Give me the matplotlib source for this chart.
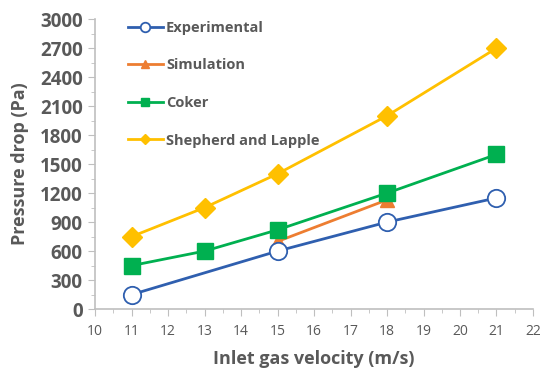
import matplotlib
matplotlib.use('Agg')
import matplotlib.pyplot as plt
from matplotlib.ticker import MultipleLocator

# Data
velocity = [11, 13, 15, 18, 21]
experimental_x = [11, 15, 18, 21]
experimental = [150, 600, 900, 1150]
simulation_x = [15, 18]
simulation = [700, 1130]
coker = [450, 600, 820, 1200, 1600]
shepherd_lapple = [750, 1050, 1400, 2000, 2700]

plt.rcParams['font.family'] = ['Open Sans', 'DejaVu Sans']

grey = '#595959'
axis_grey = '#BFBFBF'

fig = plt.figure(figsize=(5.5, 3.76), dpi=100)
ax = fig.add_axes([0.173, 0.178, 0.796, 0.771])

ax.plot(experimental_x, experimental, color='#2F5FAF', lw=2, marker='o', ms=12.5,
        mfc='white', mec='#2F5FAF', mew=1.3, label='Experimental', zorder=3)
ax.plot(simulation_x, simulation, color='#ED7D31', lw=2, marker='^', ms=10,
        mfc='#ED7D31', mec='#ED7D31', label='Simulation', zorder=2)
ax.plot(velocity, coker, color='#00B050', lw=2, marker='s', ms=11,
        mfc='#00B050', mec='#00B050', label='Coker', zorder=4)
ax.plot(velocity, shepherd_lapple, color='#FFC000', lw=2, marker='D', ms=10,
        mfc='#FFC000', mec='#FFC000', label='Shepherd and Lapple', zorder=5)

ax.set_xlim(10, 22)
ax.set_ylim(0, 3000)
ax.xaxis.set_major_locator(MultipleLocator(1))
ax.xaxis.set_minor_locator(MultipleLocator(0.5))
ax.yaxis.set_major_locator(MultipleLocator(300))
ax.yaxis.set_minor_locator(MultipleLocator(150))

for side in ['top', 'right']:
    ax.spines[side].set_visible(False)
for side in ['left', 'bottom']:
    ax.spines[side].set_color(axis_grey)
    ax.spines[side].set_linewidth(1.2)

ax.tick_params(axis='both', which='both', color=axis_grey, direction='out')
ax.tick_params(axis='both', which='major', length=5)
ax.tick_params(axis='both', which='minor', length=3)
ax.tick_params(axis='x', labelsize=10, labelcolor=grey, pad=6)
ax.tick_params(axis='y', labelsize=13.5, labelcolor=grey, pad=4)
for lbl in ax.get_yticklabels():
    lbl.set_fontweight('bold')

ax.set_xlabel('Inlet gas velocity (m/s)', fontsize=13, fontweight='bold', color=grey, labelpad=8)
ax.set_ylabel('Pressure drop (Pa)', fontsize=13, fontweight='bold', color=grey, labelpad=8)

leg = ax.legend(loc='upper left', bbox_to_anchor=(0.045, 1.04), frameon=False,
                markerscale=0.55, labelspacing=1.62, handlelength=2.4,
                handletextpad=0.2, prop={'weight': 'bold', 'size': 10.5})
for t in leg.get_texts():
    t.set_color(grey)

fig.savefig('out.png', dpi=100)
